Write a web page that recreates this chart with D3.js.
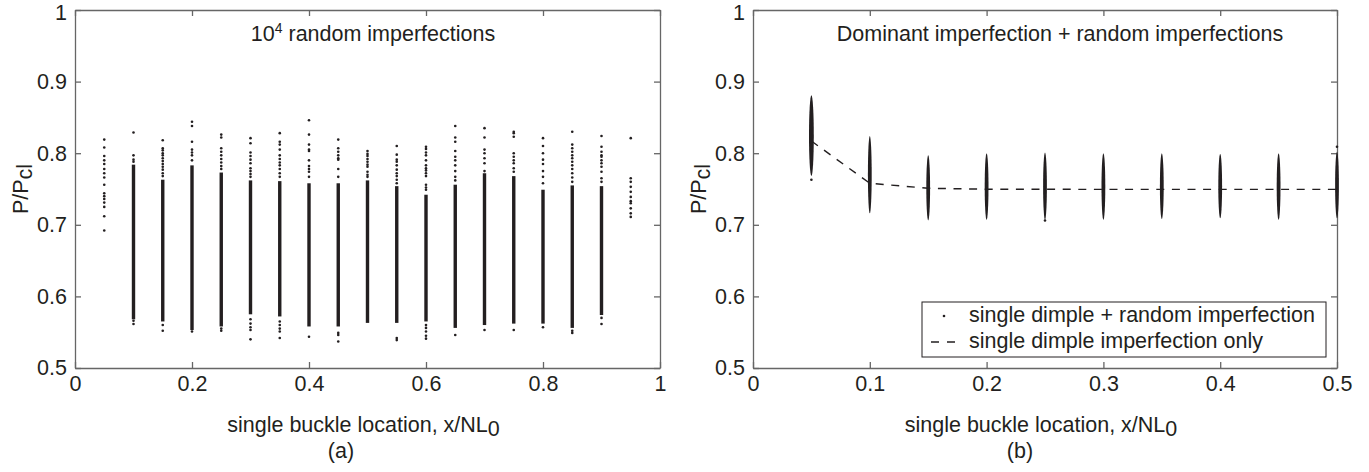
<!DOCTYPE html>
<html>
<head>
<meta charset="utf-8">
<script src="https://cdn.jsdelivr.net/npm/d3@7"></script>
<style>
  body { margin:0; background:#fff; }
  text { font-family: "Liberation Sans", Arial, sans-serif; fill:#231f20; }
</style>
</head>
<body>
<div id="plot"></div>
<script>
// ---- data ----
// (a) 10^4 random imperfections : one column per buckle location
var colX = [0.05,0.1,0.15,0.2,0.25,0.3,0.35,0.4,0.45,0.5,0.55,0.6,0.65,0.7,0.75,0.8,0.85,0.9,0.95];
// dense part of each column (null = only scattered points)
var denseLo = [null,0.568,0.565,0.553,0.558,0.575,0.572,0.558,0.558,0.563,0.563,0.565,0.556,0.560,0.562,0.562,0.556,0.574,null];
var denseHi = [null,0.784,0.763,0.783,0.773,0.762,0.761,0.758,0.758,0.762,0.754,0.742,0.756,0.772,0.768,0.749,0.755,0.754,null];
// scattered points above / below the dense part
var topDots = [
  [0.819,0.808,0.796,0.790,0.785,0.778,0.772,0.766,0.756,0.744,0.740,0.736,0.731,0.725,0.712,0.692],
  [0.829,0.797,0.791,0.788],
  [0.818,0.807,0.804,0.800,0.797,0.793,0.789,0.785,0.781,0.777,0.772,0.768],
  [0.844,0.838,0.816,0.805,0.801,0.797,0.790],
  [0.826,0.822,0.807,0.802,0.797,0.792,0.787,0.782,0.778],
  [0.821,0.814,0.801,0.796,0.791,0.786,0.779,0.775,0.771,0.767],
  [0.828,0.816,0.812,0.805,0.797,0.792,0.787,0.783,0.778,0.772,0.767],
  [0.846,0.826,0.812,0.805,0.803,0.790,0.782,0.778,0.774,0.767],
  [0.819,0.807,0.802,0.797,0.793,0.791,0.778,0.767],
  [0.803,0.799,0.796,0.792,0.788,0.784,0.781,0.774,0.770,0.767],
  [0.810,0.798,0.791,0.788,0.783,0.777,0.772,0.768,0.763,0.758],
  [0.809,0.806,0.801,0.797,0.790,0.783,0.779,0.776,0.772,0.768,0.756,0.752,0.749],
  [0.838,0.822,0.816,0.803,0.795,0.790,0.783,0.775,0.767,0.762],
  [0.835,0.822,0.805,0.800,0.793,0.786,0.775],
  [0.830,0.828,0.823,0.800,0.795,0.790,0.786,0.779,0.774],
  [0.821,0.810,0.800,0.791,0.785,0.775,0.767,0.758],
  [0.830,0.812,0.807,0.802,0.797,0.793,0.788,0.783,0.778,0.772,0.766,0.760],
  [0.824,0.809,0.802,0.797,0.795,0.790,0.786,0.781,0.774,0.765,0.760],
  [0.821,0.765,0.760,0.753,0.746,0.739,0.733,0.730,0.723,0.716,0.711]
];
var lowDots = [
  [],[0.566,0.5615],[0.560,0.552],[0.551],[0.555,0.552],
  [0.568,0.562,0.557,0.553,0.540],[0.565,0.560,0.555,0.551,0.542],[0.5437],
  [0.549,0.546,0.537],[],[0.542,0.539],[0.560,0.556,0.551,0.545,0.541],
  [0.546],[0.553],[0.553],[0.557],[0.552,0.549],[0.570,0.5615],[]
];

// (b) dominant imperfection + random imperfections
var dimpleX   = [0.05,0.1,0.15,0.2,0.25,0.3,0.35,0.4,0.45,0.5];
var dimpleLo  = [0.768,0.716,0.706,0.707,0.707,0.707,0.708,0.709,0.707,0.709];
var dimpleHi  = [0.881,0.824,0.797,0.800,0.801,0.800,0.800,0.799,0.800,0.802];
var dimpleDots = [[0.763],[],[],[],[0.706],[],[],[],[],[0.809]];
var dimpleOnly = [0.817,0.758,0.751,0.7497,0.7496,0.7495,0.7495,0.7495,0.7495,0.7495];

var yTicks = [0.5,0.6,0.7,0.8,0.9,1];
var xTicksA = [0,0.2,0.4,0.6,0.8,1];
var xTicksB = [0,0.1,0.2,0.3,0.4,0.5];

// ---- layout ----
var W = 1369, H = 472;
var ink = '#231f20', axisCol = '#666', fs = '21.5px';

var svg = d3.select('#plot').append('svg')
    .attr('width', W).attr('height', H);

var xA = d3.scaleLinear().domain([0,1]).range([75,660]);
var xB = d3.scaleLinear().domain([0,0.5]).range([753,1337]);
var y  = d3.scaleLinear().domain([0.5,1]).range([368,10]);

function fmt(d){ return d===0 ? '0' : d===1 ? '1' : d3.format('.1f')(d); }

function frame(x, xt){
  var g = svg.append('g');
  var r = x.range();
  g.append('g').attr('transform','translate(0,368)')
    .call(d3.axisBottom(x).tickValues(xt).tickSize(-6).tickSizeOuter(0).tickPadding(8).tickFormat(fmt));
  g.append('g').attr('transform','translate(0,10)')
    .call(d3.axisTop(x).tickValues(xt).tickSize(-6).tickSizeOuter(0).tickFormat(''));
  var yl = g.append('g').attr('transform','translate('+r[0]+',0)')
    .call(d3.axisLeft(y).tickValues(yTicks).tickSize(-6).tickSizeOuter(0).tickPadding(8).tickFormat(fmt));
  // top label "1" sits at the very edge; nudge it so it is not clipped
  yl.selectAll('.tick text').filter(function(d){ return d===1; }).attr('dy','0.45em');
  g.append('g').attr('transform','translate('+r[1]+',0)')
    .call(d3.axisRight(y).tickValues(yTicks).tickSize(-6).tickSizeOuter(0).tickFormat(''));
  g.selectAll('.domain, .tick line').attr('stroke', axisCol).attr('stroke-width', 1.3);
  g.selectAll('.tick text').attr('font-size', fs).attr('fill', ink)
    .attr('font-family','"Liberation Sans", Arial, sans-serif');

  // y label P/Pcl
  var t = svg.append('text')
    .attr('transform','translate('+(r[0]-47)+','+((y(0.5)+y(1))/2)+') rotate(-90)')
    .attr('text-anchor','middle').attr('font-size', fs);
  t.append('tspan').text('P/P');
  t.append('tspan').attr('dy', 4).text('cl');

  // x label
  var xl = svg.append('text')
    .attr('x', (r[0]+r[1])/2 - 4).attr('y', 432)
    .attr('text-anchor','middle').attr('font-size', fs);
  xl.append('tspan').text('single buckle location, x/NL');
  xl.append('tspan').attr('dy', 4).text('0');
  return g;
}

// ---- panel (a) ----
frame(xA, xTicksA);
var pa = svg.append('g');
colX.forEach(function(c, i){
  if (denseLo[i] !== null) {
    pa.append('rect')
      .attr('x', xA(c)-1.7).attr('width', 3.4)
      .attr('y', y(denseHi[i])).attr('height', y(denseLo[i]) - y(denseHi[i]))
      .attr('fill', ink);
  }
  topDots[i].concat(lowDots[i]).forEach(function(v){
    pa.append('circle').attr('cx', xA(c)).attr('cy', y(v)).attr('r', 1.3).attr('fill', ink);
  });
});
var ta = svg.append('text').attr('x', 373).attr('y', 41)
  .attr('text-anchor','middle').attr('font-size', fs);
ta.append('tspan').text('10');
ta.append('tspan').attr('dy', -8).attr('font-size','14px').text('4');
ta.append('tspan').attr('dy', 8).text(' random imperfections');
svg.append('text').attr('x', 341).attr('y', 458).attr('text-anchor','middle')
  .attr('font-size', fs).text('(a)');

// ---- panel (b) ----
frame(xB, xTicksB);
var pb = svg.append('g');
dimpleX.forEach(function(c, i){
  pb.append('ellipse')
    .attr('cx', xB(c)).attr('cy', (y(dimpleLo[i]) + y(dimpleHi[i]))/2)
    .attr('rx', i===0 ? 2.4 : 1.9).attr('ry', (y(dimpleLo[i]) - y(dimpleHi[i]))/2)
    .attr('fill', ink);
  dimpleDots[i].forEach(function(v){
    pb.append('circle').attr('cx', xB(c)).attr('cy', y(v)).attr('r', 1.3).attr('fill', ink);
  });
});
var line = d3.line().x(function(d,i){ return xB(dimpleX[i]); }).y(function(d){ return y(d); });
pb.append('path').datum(dimpleOnly).attr('d', line)
  .attr('fill','none').attr('stroke', ink).attr('stroke-width', 1.4)
  .attr('stroke-dasharray','8,7.6');

svg.append('text').attr('x', 1060).attr('y', 41)
  .attr('text-anchor','middle').attr('font-size', fs)
  .text('Dominant imperfection + random imperfections');
svg.append('text').attr('x', 1020).attr('y', 458).attr('text-anchor','middle')
  .attr('font-size', fs).text('(b)');

// legend
var lg = svg.append('g');
lg.append('rect').attr('x', 922).attr('y', 302).attr('width', 404).attr('height', 55)
  .attr('fill','#fff').attr('stroke', ink).attr('stroke-width', 1);
lg.append('circle').attr('cx', 944).attr('cy', 316).attr('r', 1.3).attr('fill', ink);
lg.append('line').attr('x1', 931).attr('x2', 955).attr('y1', 342).attr('y2', 342)
  .attr('stroke', ink).attr('stroke-width', 1.4).attr('stroke-dasharray','8,8');
lg.append('text').attr('x', 969).attr('y', 322).attr('font-size', fs)
  .text('single dimple + random imperfection');
lg.append('text').attr('x', 969).attr('y', 348).attr('font-size', fs)
  .text('single dimple imperfection only');
</script>
</body>
</html>
